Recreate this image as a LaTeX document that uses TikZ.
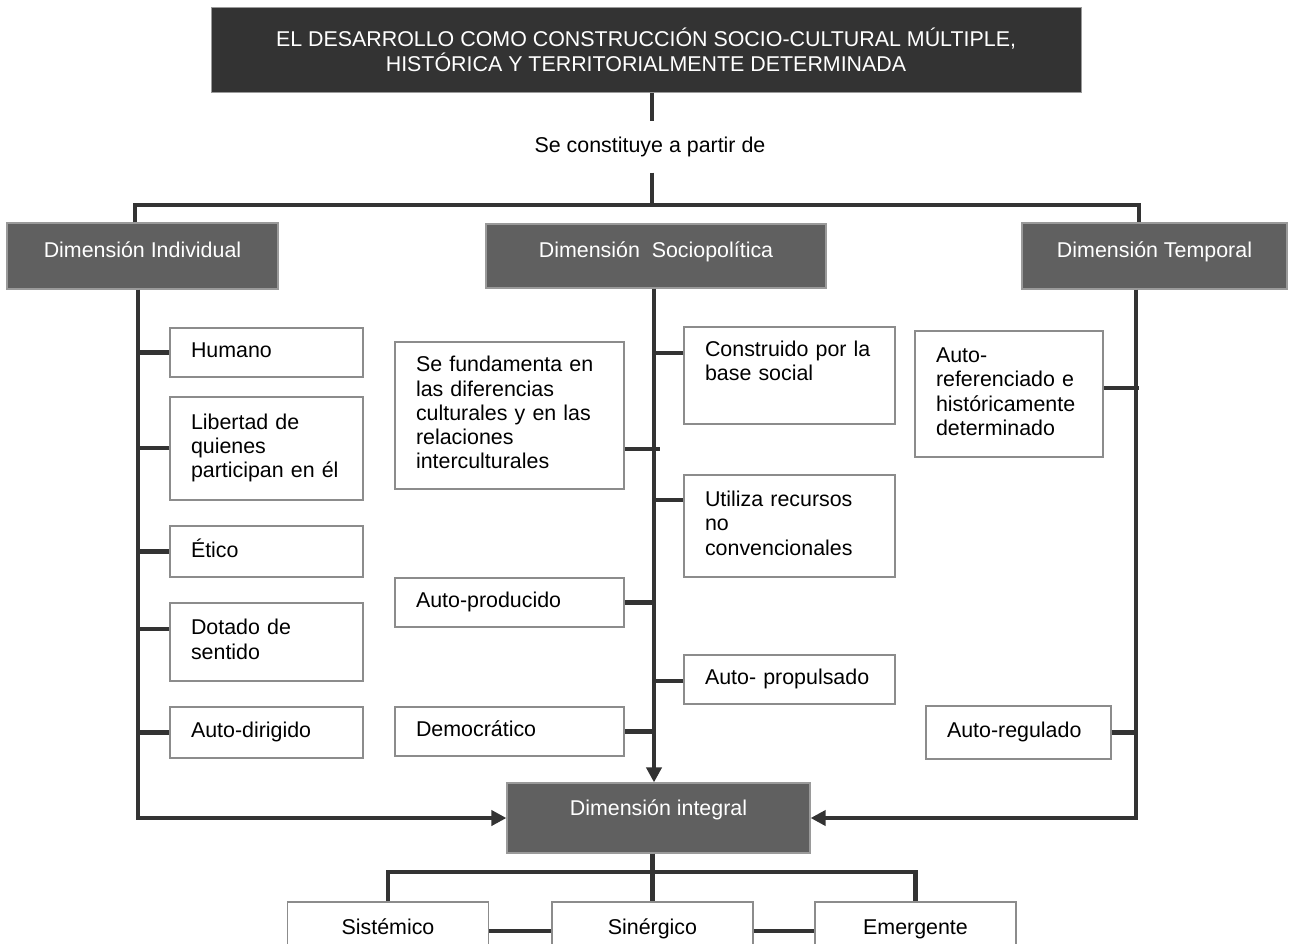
\documentclass[tikz,border=0pt]{standalone}
\usepackage{fontspec}
\usetikzlibrary{arrows.meta}
\newfontfamily\arialf{Liberation Sans}
\newcommand\diagfont{\arialf\fontsize{21.4}{24.3}\selectfont}
\newcommand\headfont{\arialf\fontsize{21.4}{25}\selectfont}
\definecolor{topdark}{HTML}{333333}
\definecolor{dimfill}{HTML}{606060}
\definecolor{dimedge}{HTML}{9A9A9A}
\definecolor{boxedge}{HTML}{8C8C8C}
\definecolor{linkdark}{HTML}{333333}
\tikzset{
  conn/.style={draw=linkdark, line width=4.5pt},
  arrowconn/.style={conn, -{Triangle[length=15pt,width=15pt]}},
  wbox/.style={draw=boxedge, line width=1.5pt, fill=white, inner xsep=21pt,
    inner ysep=0pt, align=left, font=\diagfont,
    execute at begin node={\strut}, execute at end node={\strut}},
  dimbox/.style={draw=dimedge, line width=1.2pt, fill=dimfill, text=white,
    inner sep=0pt, font=\diagfont, text height=16pt, text depth=13pt},
  sbox/.style={draw=boxedge, line width=1.5pt, fill=white, inner sep=0pt,
    font=\diagfont, text height=16pt, text depth=5pt,
    minimum width=201pt, minimum height=54pt},
}
\begin{document}
\begin{tikzpicture}[x=1pt,y=-1pt]
\useasboundingbox (0,0) rectangle (1289,943);
\fill[white] (0,0) rectangle (1289,943);
\clip (0,0) rectangle (1289,943);

% guide coordinates for the vertical trunks
\coordinate (ax) at (652,0);
\coordinate (lv) at (138,0);
\coordinate (mv) at (654,0);
\coordinate (rv) at (1136,0);
\coordinate (hl) at (135,205);
\coordinate (hr) at (1139,205);

% title
\node[draw=dimedge, line width=1pt, fill=topdark, text=white, font=\headfont,
      align=center, inner sep=0pt, minimum width=870pt, minimum height=85pt]
  (top) at (646,49.5)
  {EL DESARROLLO COMO CONSTRUCCIÓN SOCIO-CULTURAL MÚLTIPLE,\\
   HISTÓRICA Y TERRITORIALMENTE DETERMINADA};
\node[font=\diagfont, inner sep=0pt, minimum height=51pt] (cst) at (650,147)
  {Se constituye a partir de};

% dimensions
\node[dimbox, minimum width=271pt, minimum height=66pt] (dind) at (142.5,256)
  {Dimensión Individual};
\node[dimbox, minimum width=340pt, minimum height=64pt] (dsoc) at (656,256)
  {Dimensión~ Sociopolítica};
\node[dimbox, minimum width=265pt, minimum height=66pt] (dtemp) at (1154.5,256)
  {Dimensión Temporal};
\node[dimbox, text depth=21pt, minimum width=303pt, minimum height=70pt] (dint) at (658.5,818)
  {Dimensión integral};

% individual dimension
\node[wbox, text width=151pt, minimum height=49pt] (hum) at (266.5,352.5) {Humano};
\node[wbox, text width=151pt, minimum height=103pt] (lib) at (266.5,448.5)
  {Libertad de\\quienes\\participan en él};
\node[wbox, text width=151pt, minimum height=51pt] (eti) at (266.5,551.5) {Ético};
\node[wbox, text width=151pt, minimum height=78pt] (dot) at (266.5,642)
  {Dotado de\\sentido};
\node[wbox, text width=151pt, minimum height=51pt] (adi) at (266.5,732.5) {Auto-dirigido};

% sociopolitical dimension
\node[wbox, text width=187pt, minimum height=147pt] (fund) at (509.5,415.5)
  {Se fundamenta en\\las diferencias\\culturales y en las\\relaciones\\interculturales};
\node[wbox, text width=187pt, minimum height=49pt] (apro) at (509.5,602.5) {Auto-producido};
\node[wbox, text width=187pt, minimum height=49pt] (dem) at (509.5,731.5) {Democrático};
\node[wbox, text width=169pt, minimum height=97pt] (cons) at (789.5,375.5)
  {Construido por la\\base social\\\mbox{}};
\node[wbox, text width=169pt, minimum height=102pt] (util) at (789.5,526)
  {Utiliza recursos\\no\\convencionales};
\node[wbox, text width=169pt, minimum height=49pt] (aprop) at (789.5,679.5)
  {Auto- propulsado};

% temporal dimension
\node[wbox, text width=146pt, minimum height=126pt] (aref) at (1009,394)
  {Auto-\\referenciado e\\históricamente\\determinado};
\node[wbox, text width=143pt, minimum height=53pt] (areg) at (1018.5,732.5) {Auto-regulado};

% integral dimension
\node[sbox] (sis) at (388,929) {Sistémico};
\node[sbox] (sin) at (652.5,929) {Sinérgico};
\node[sbox] (eme) at (915.5,929) {Emergente};

% title to dimensions
\draw[conn] (top.south -| ax) -- (cst.north -| ax);
\draw[conn] (cst.south -| ax) -- (hl -| ax);
\draw[conn] (dind.north -| hl) -- (hl) -- (hr) -- (dtemp.north -| hr);

% trunks into the integral dimension
\draw[arrowconn] (dind.south -| lv) |- (dint.west);
\draw[arrowconn] (dsoc.south -| mv) -- (dint.north -| mv);
\draw[arrowconn] (dtemp.south -| rv) |- (dint.east);

% individual branches
\draw[conn] (hum.west) -- (hum.west -| lv);
\draw[conn] (lib.west |- 0,448) -- (lv |- 0,448);
\draw[conn] (eti.west) -- (eti.west -| lv);
\draw[conn] (dot.west |- 0,629) -- (lv |- 0,629);
\draw[conn] (adi.west) -- (adi.west -| lv);

% sociopolitical branches
\draw[conn] (fund.east |- 0,449) -- (660,449);
\draw[conn] (apro.east) -- (apro.east -| mv);
\draw[conn] (dem.east) -- (dem.east -| mv);
\draw[conn] (cons.west |- 0,353) -- (mv |- 0,353);
\draw[conn] (util.west |- 0,500) -- (mv |- 0,500);
\draw[conn] (aprop.west |- 0,681) -- (mv |- 0,681);

% temporal branches
\draw[conn] (aref.east |- 0,388) -- (1139,388);
\draw[conn] (areg.east) -- (areg.east -| rv);

% integral branches
\draw[conn] (dint.south -| sin.north) -- (sin.north);
\draw[conn] (sis.north) -- (sis.north |- 0,872) -- (eme.north |- 0,872) -- (eme.north);
\draw[conn] (sis.east |- 0,931) -- (sin.west |- 0,931);
\draw[conn] (sin.east |- 0,931) -- (eme.west |- 0,931);
\end{tikzpicture}
\end{document}
